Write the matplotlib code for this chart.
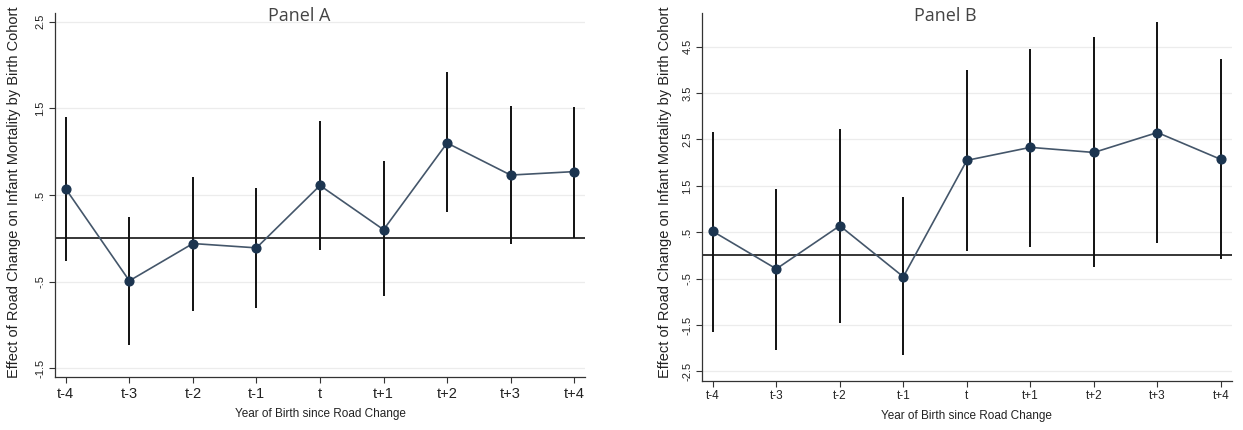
import matplotlib
matplotlib.use("Agg")
import matplotlib.pyplot as plt
import numpy as np

plt.rcParams['font.family'] = ['Liberation Sans', 'DejaVu Sans']

periods = ["t-4", "t-3", "t-2", "t-1", "t", "t+1", "t+2", "t+3", "t+4"]

a_est = [0.57, -0.49, -0.06, -0.11, 0.61, 0.10, 1.10, 0.73, 0.77]
a_hi = [1.40, 0.25, 0.71, 0.58, 1.35, 0.89, 1.92, 1.53, 1.52]
a_lo = [-0.26, -1.23, -0.84, -0.80, -0.13, -0.67, 0.30, -0.07, 0.00]
a_yticks = [-1.5, -0.5, 0.5, 1.5, 2.5]
a_ytlabels = ["-1.5", "-.5", ".5", "1.5", "2.5"]

b_est = [0.52, -0.29, 0.64, -0.46, 2.05, 2.33, 2.22, 2.65, 2.07]
b_hi = [2.66, 1.44, 2.72, 1.25, 3.99, 4.46, 4.71, 5.03, 4.24]
b_lo = [-1.66, -2.04, -1.45, -2.14, 0.09, 0.19, -0.25, 0.27, -0.07]
b_yticks = [-2.5, -1.5, -0.5, 0.5, 1.5, 2.5, 3.5, 4.5]
b_ytlabels = ["-2.5", "-1.5", "-.5", ".5", "1.5", "2.5", "3.5", "4.5"]

W, H = 1243, 430
fig = plt.figure(figsize=(W / 100, H / 100), dpi=100)
fig.patch.set_facecolor("white")


def make_panel(rect, est, lo, hi, yticks, ytlabels, ylim, xtick_fs, title, title_xy, ylab_x, xlab_y):
    ax = fig.add_axes(rect)
    x = np.arange(len(periods))
    ax.set_xlim(-0.17, 8.17)
    ax.set_ylim(*ylim)
    for yt in yticks:
        ax.axhline(yt, color="#ececec", lw=0.9, zorder=0)
    ax.axhline(0, color="black", lw=1.1, zorder=1)
    ax.vlines(x, lo, hi, colors="#111111", lw=1.4, zorder=2)
    ax.plot(x, est, color="#44566a", lw=1.2, zorder=3)
    ax.plot(x, est, "o", color="#1c3550", ms=6.3, zorder=4)
    ax.set_xticks(x)
    ax.set_xticklabels(periods, fontsize=xtick_fs, color="#222222")
    ax.set_yticks(yticks)
    ax.set_yticklabels(ytlabels, fontsize=8, rotation=90, va="center", color="#222222")
    for s in ["top", "right"]:
        ax.spines[s].set_visible(False)
    for s in ["left", "bottom"]:
        ax.spines[s].set_color("#333333")
        ax.spines[s].set_linewidth(0.9)
    ax.tick_params(axis="both", direction="out", length=4, width=0.8, color="#333333", pad=3)
    fig.text(title_xy[0] / W, 1 - title_xy[1] / H, title, fontsize=13, color="#444444",
             ha="center", va="baseline", family=["Open Sans", "DejaVu Sans"])
    fig.text(ylab_x / W, 1 - 192 / H,
             "Effect of Road Change on Infant Mortality by Birth Cohort",
             rotation=90, fontsize=10.5, ha="center", va="center", color="#222222")
    fig.text(rect[0] + rect[2] / 2, 1 - xlab_y / H, "Year of Birth since Road Change",
             fontsize=8.5, ha="center", va="center", color="#222222")
    return ax


make_panel([55 / W, 53 / H, 530 / W, 364 / H], a_est, a_lo, a_hi, a_yticks, a_ytlabels,
           (-1.6, 2.6), 10.5, "Panel A", (299, 21), 14, 414)
make_panel([702 / W, 49.3 / H, 529.7 / W, 367.4 / H], b_est, b_lo, b_hi, b_yticks, b_ytlabels,
           (-2.7, 5.22), 8.5, "Panel B", (945, 21), 665, 416)

fig.savefig("out.png", dpi=100, facecolor="white")
